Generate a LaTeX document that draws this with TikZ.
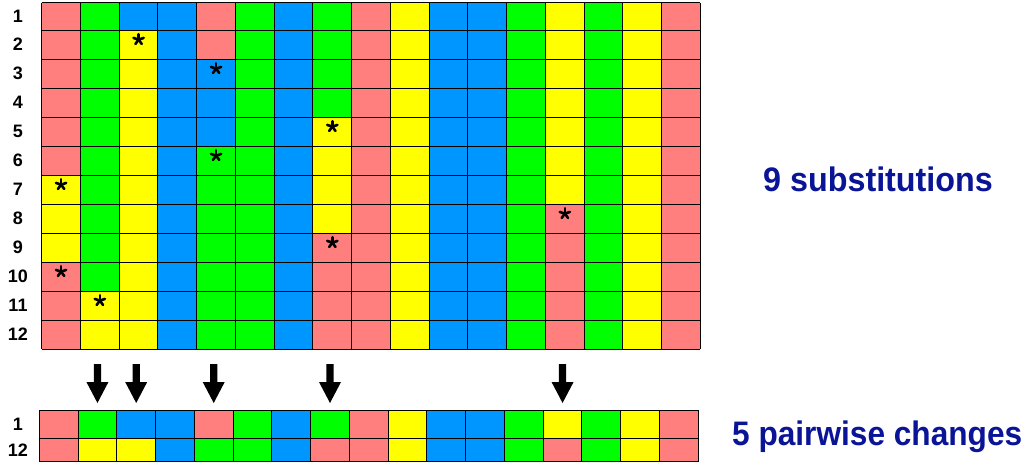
\documentclass[tikz,border=0pt]{standalone}
\usepackage{fontspec}
\setmainfont{Liberation Sans}
\definecolor{cR}{HTML}{FF7F7F}
\definecolor{cG}{HTML}{00FF00}
\definecolor{cB}{HTML}{0096FF}
\definecolor{cY}{HTML}{FFFF00}
\definecolor{navy}{RGB}{10,20,150}
\tikzset{
  gridline/.style={line width=1pt, black},
  rowlab/.style={font=\fontsize{18}{21}\selectfont\bfseries, inner sep=0pt, anchor=center},
  biglab/.style={text=navy, inner sep=0pt, anchor=base west},
  astk/.style={line width=2.6pt, line cap=round, black},
  downarrow/.style={fill=black},
}
\newcommand\mystar[2]{% row, col
  \pgfmathsetmacro\sx{41.7+(#2-0.5)*38.75}
  \pgfmathsetmacro\sy{(#1==1)*2.7+(#1>1)*(30+(#1-2)*29)+9.6}
  \foreach \a in {-90,-18,54,126,198}{\draw[astk] (\sx,\sy) -- ++(\a:5.4);}
}
\newcommand\myarrow[1]{% col
  \pgfmathsetmacro\ax{39.3+(#1-0.5)*38.76}
  \fill[downarrow] (\ax-3.6,364) -- (\ax+3.6,364) -- (\ax+3.6,382) -- (\ax+11,382)
    -- (\ax,403) -- (\ax-11,382) -- (\ax-3.6,382) -- cycle;
}
\begin{document}
\begin{tikzpicture}[x=1pt,y=-1pt]
\useasboundingbox (0,0) rectangle (1026,466);
\fill[white] (0,0) rectangle (1026,466);
% main grid cells
\foreach \c/\lst in {
 1/{cR,cR,cR,cR,cR,cR,cY,cY,cY,cR,cR,cR},
 2/{cG,cG,cG,cG,cG,cG,cG,cG,cG,cG,cY,cY},
 3/{cB,cY,cY,cY,cY,cY,cY,cY,cY,cY,cY,cY},
 4/{cB,cB,cB,cB,cB,cB,cB,cB,cB,cB,cB,cB},
 5/{cR,cR,cB,cB,cB,cG,cG,cG,cG,cG,cG,cG},
 6/{cG,cG,cG,cG,cG,cG,cG,cG,cG,cG,cG,cG},
 7/{cB,cB,cB,cB,cB,cB,cB,cB,cB,cB,cB,cB},
 8/{cG,cG,cG,cG,cY,cY,cY,cY,cR,cR,cR,cR},
 9/{cR,cR,cR,cR,cR,cR,cR,cR,cR,cR,cR,cR},
 10/{cY,cY,cY,cY,cY,cY,cY,cY,cY,cY,cY,cY},
 11/{cB,cB,cB,cB,cB,cB,cB,cB,cB,cB,cB,cB},
 12/{cB,cB,cB,cB,cB,cB,cB,cB,cB,cB,cB,cB},
 13/{cG,cG,cG,cG,cG,cG,cG,cG,cG,cG,cG,cG},
 14/{cY,cY,cY,cY,cY,cY,cY,cR,cR,cR,cR,cR},
 15/{cG,cG,cG,cG,cG,cG,cG,cG,cG,cG,cG,cG},
 16/{cY,cY,cY,cY,cY,cY,cY,cY,cY,cY,cY,cY},
 17/{cR,cR,cR,cR,cR,cR,cR,cR,cR,cR,cR,cR}}{
  \foreach \k [count=\r] in \lst {
    \pgfmathsetmacro\xl{41.7+(\c-1)*38.75}
    \pgfmathsetmacro\xr{41.7+\c*38.75}
    \pgfmathsetmacro\yt{(\r==1)*2.7+(\r>1)*(30+(\r-2)*29)}
    \pgfmathsetmacro\yb{30+(\r-1)*29}
    \fill[\k] (\xl,\yt) rectangle (\xr,\yb);
  }
}
% grid lines
\foreach \i in {0,...,17}{\draw[gridline] ({41.7+\i*38.75},2.7) -- ({41.7+\i*38.75},349);}
\draw[gridline] (41.7,2.7) -- (700.45,2.7);
\foreach \i in {1,...,12}{\draw[gridline] (41.7,{30+(\i-1)*29}) -- (700.45,{30+(\i-1)*29});}
% row labels
\foreach \r in {1,...,12}{
  \pgfmathsetmacro\yt{(\r==1)*2.7+(\r>1)*(30+(\r-2)*29)}
  \pgfmathsetmacro\yb{30+(\r-1)*29}
  \node[rowlab] (lab\r) at (18,{(\yt+\yb)/2}) {\r};
}
% asterisks
\mystar{2}{3}\mystar{3}{5}\mystar{5}{8}\mystar{6}{5}\mystar{7}{1}
\mystar{8}{14}\mystar{9}{8}\mystar{10}{1}\mystar{11}{2}
% arrows
\myarrow{2}\myarrow{3}\myarrow{5}\myarrow{8}\myarrow{14}
% bottom strip
\foreach \c/\ka/\kb in {1/cR/cR,2/cG/cY,3/cB/cY,4/cB/cB,5/cR/cG,6/cG/cG,7/cB/cB,8/cG/cR,
  9/cR/cR,10/cY/cY,11/cB/cB,12/cB/cB,13/cG/cG,14/cY/cR,15/cG/cG,16/cY/cY,17/cR/cR}{
  \pgfmathsetmacro\xl{39.3+(\c-1)*38.76}
  \pgfmathsetmacro\xr{39.3+\c*38.76}
  \fill[\ka] (\xl,410.3) rectangle (\xr,438);
  \fill[\kb] (\xl,438) rectangle (\xr,461.7);
}
\foreach \i in {0,...,17}{\draw[gridline] ({39.3+\i*38.76},410.3) -- ({39.3+\i*38.76},461.7);}
\draw[gridline] (39.3,410.3) -- (698.2,410.3);
\draw[gridline] (39.3,438) -- (698.2,438);
\draw[gridline] (39.3,461.7) -- (698.2,461.7);
\node[rowlab] (blab1) at (18,424) {1};
\node[rowlab] (blab12) at (18,450) {12};
% captions
\node[biglab] (subs) at (763,191.7) {\scalebox{0.95}[1]{\fontsize{34}{40}\selectfont\bfseries 9 substitutions}};
\node[biglab] (pair) at (732,445) {\scalebox{0.93}[1]{\fontsize{34}{40}\selectfont\bfseries 5 pairwise changes}};
\end{tikzpicture}
\end{document}
